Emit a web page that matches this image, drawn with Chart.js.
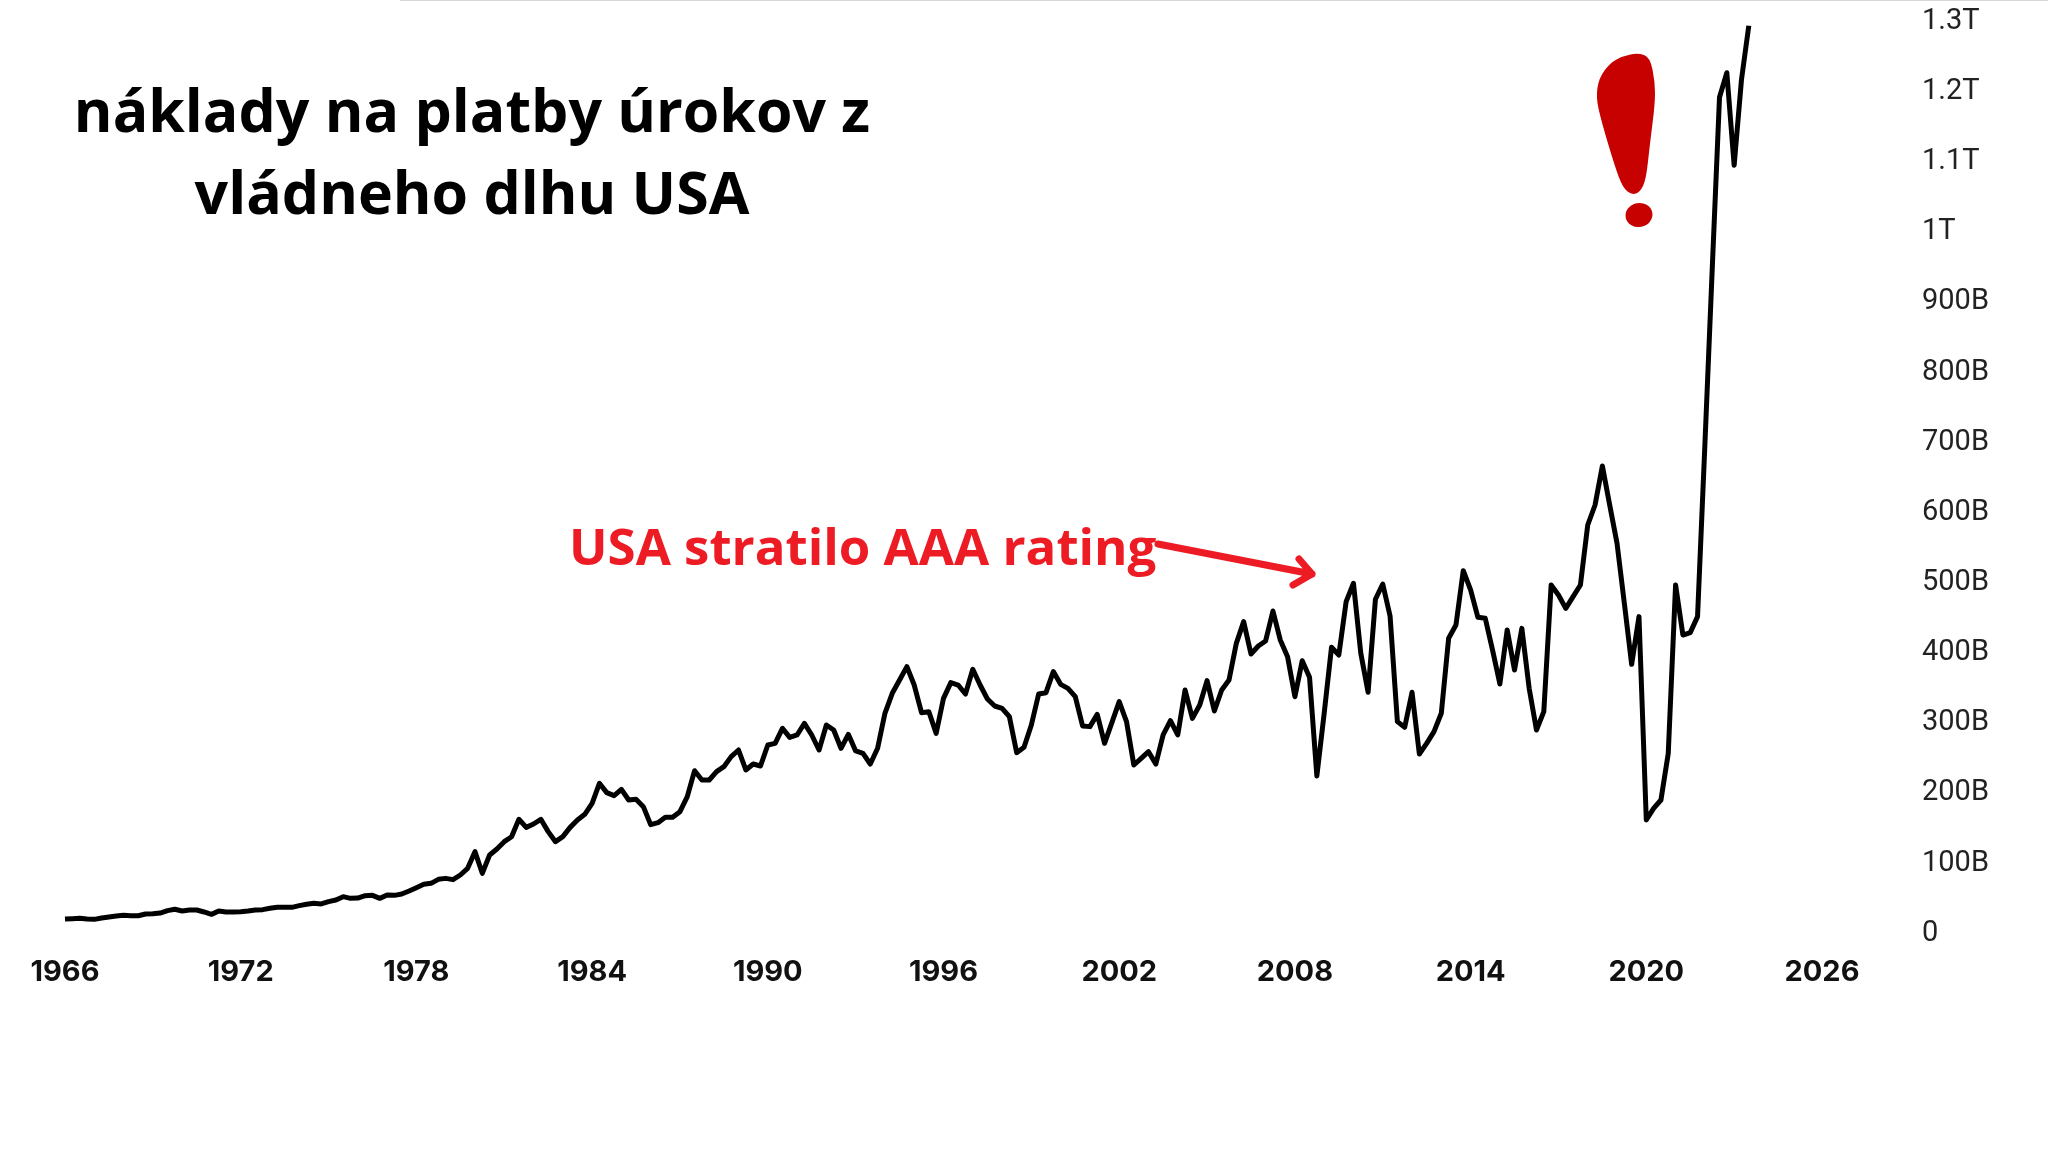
<!DOCTYPE html>
<html>
<head>
    <meta charset="UTF-8">
    <title>Náklady na platby úrokov</title>
    <script src="https://cdn.jsdelivr.net/npm/chart.js"></script>
    <style>
        body {
            margin: 0;
            background-color: #fff;
            overflow: hidden;
        }
        .chart-container {
            width: 2048px;
            height: 1152px;
        }
        .top-rule {
            position: absolute;
            top: 0;
            left: 400px;
            right: 0;
            height: 1px;
            background-color: #d8d8d8;
        }
    </style>
</head>
<body>
<div class="top-rule"></div>
<div class="chart-container">
    <canvas id="interestChart" width="2048" height="1152"></canvas>
</div>
<script>
    // quarterly interest payments, billions of USD, first point is Q1 1966
    const firstYear = 1966;
    const interestCost = [
        15.7, 16.2, 16.6, 15.7, 15.2, 17.1, 18.5, 20, 20.9, 20.4, 20.4, 22.8,
        23.3, 24.2, 27.6, 29.5, 27.1, 28.5, 28.5, 25.7, 22.3, 27.1, 25.7, 25.7,
        26.1, 27.1, 28.5, 29, 30.9, 32.3, 32.3, 32.3, 34.7, 36.6, 38, 37.1,
        40.4, 42.8, 47.5, 45.1, 45.6, 48.9, 49.4, 45.1, 49.9, 49.4, 51.3, 55.6,
        60.3, 65.1, 66.5, 72.2, 73.6, 71.8, 78.4, 87.9, 111.7, 80.8, 106.9, 115.5,
        125.9, 133, 157.8, 146.3, 151.1, 157.8, 140.2, 125.9, 133.1, 146.3, 156.8, 164.9,
        180.6, 209.1, 195.8, 191.5, 200.5, 185.3, 186.3, 175.8, 150.2, 153, 160.6, 160.6,
        168.7, 190.1, 227.1, 213.8, 213.8, 225.7, 232.8, 247.1, 256.6, 228.1, 236.6, 233.8,
        263.7, 266.1, 287.5, 274.6, 278, 294.6, 278, 256.6, 292.2, 285.1, 259, 278.9,
        255.2, 251.8, 236.6, 259, 308.9, 337.4, 356.4, 375.4, 349.2, 309.8, 311.2, 280.3,
        330.2, 352.6, 349.2, 336.4, 371.6, 349.2, 329.3, 319.3, 316, 304.1, 252.8, 260.4,
        292.2, 336.4, 338.3, 368.3, 350.2, 344.5, 332.6, 290.8, 289.9, 307.4, 266.1, 295.6,
        325.5, 297, 235.2, 244.7, 254.2, 236.6, 278, 298.4, 278, 342.1, 301.7, 320.7,
        355.4, 312.2, 342.1, 356.4, 408.6, 439.5, 393.4, 404.8, 412, 454.7, 413.4, 389.6,
        332.6, 383.9, 360.2, 219.5, 308.9, 402.9, 392, 468, 494.2, 394.4, 338.8, 471.4,
        493.2, 447.6, 297, 288.9, 338.8, 250.9, 266.1, 282.7, 308.9, 415.8, 434.8, 512.2,
        484.7, 445.7, 444.3, 399, 350.7, 427.7, 370.6, 430, 344.5, 285.1, 311.2, 491.8,
        477.5, 458.5, 475.2, 491.8, 577.3, 605.8, 661.4, 605.8, 551.2, 465.7, 378.7, 446.7,
        156.8, 173.4, 185.3, 251.8, 491.8, 420.5, 423.9, 446.7, 691, 941, 1187, 1222,
        1090, 1212, 1289
    ];
    const chartTitle = ['náklady na platby úrokov z', 'vládneho dlhu USA'];
    const ratingNote = 'USA stratilo AAA rating';

    // y axis labels: 100B steps, switching to T at a thousand
    function formatAmount(value) {
        if (value === 0) return '0';
        return value >= 1000 ? (value / 1000) + 'T' : value + 'B';
    }

    function smoothOutline(ctx, pts) {
        const n = pts.length;
        ctx.beginPath();
        ctx.moveTo((pts[n - 1][0] + pts[0][0]) / 2, (pts[n - 1][1] + pts[0][1]) / 2);
        for (let i = 0; i < n; i++) {
            const next = pts[(i + 1) % n];
            ctx.quadraticCurveTo(pts[i][0], pts[i][1], (pts[i][0] + next[0]) / 2, (pts[i][1] + next[1]) / 2);
        }
        ctx.closePath();
    }

    // title, red note with its arrow and the exclamation mark on top of the line
    const overlayPlugin = {
        id: 'overlay',
        afterDraw(chart) {
            const ctx = chart.ctx;
            ctx.save();

            ctx.fillStyle = '#000';
            ctx.font = 'bold 59px "Open Sans"';
            ctx.textAlign = 'center';
            ctx.textBaseline = 'alphabetic';
            ctx.fillText(chartTitle[0], 472, 132);
            ctx.fillText(chartTitle[1], 472, 214);

            ctx.fillStyle = '#ed1c24';
            ctx.font = 'bold 51px "Open Sans"';
            ctx.textAlign = 'left';
            ctx.fillText(ratingNote, 569, 565);

            ctx.strokeStyle = '#ed1c24';
            ctx.lineWidth = 7;
            ctx.lineCap = 'round';
            ctx.lineJoin = 'round';
            ctx.beginPath();
            ctx.moveTo(1158, 544);
            ctx.lineTo(1312, 574);
            ctx.moveTo(1299, 559);
            ctx.lineTo(1312, 574);
            ctx.lineTo(1293, 585);
            ctx.stroke();

            ctx.fillStyle = '#c70000';
            smoothOutline(ctx, [
                [1638, 53], [1650, 57], [1655, 82], [1655, 104], [1650, 143], [1646, 180],
                [1640, 192], [1632, 195], [1623, 188], [1615, 167], [1601, 120], [1596, 97],
                [1599, 78], [1610, 63], [1623, 56]
            ]);
            ctx.fill();
            ctx.beginPath();
            ctx.ellipse(1639, 215, 13.5, 12, -0.2, 0, Math.PI * 2);
            ctx.fill();

            ctx.restore();
        }
    };

    new Chart(document.getElementById('interestChart'), {
        type: 'line',
        data: {
            datasets: [{
                data: interestCost.map((v, i) => ({ x: firstYear + i / 4, y: v })),
                borderColor: '#000',
                borderWidth: 5,
                borderJoinStyle: 'round',
                pointRadius: 0,
                tension: 0,
                clip: false
            }]
        },
        options: {
            responsive: false,
            animation: false,
            layout: { padding: { left: 65, top: 18, right: 0, bottom: 0 } },
            plugins: {
                legend: { display: false },
                tooltip: { enabled: false }
            },
            scales: {
                x: {
                    type: 'linear',
                    min: 1966,
                    max: 2026,
                    afterFit: scale => { scale.height = 222; },
                    grid: { display: false, drawTicks: false },
                    border: { display: false },
                    ticks: {
                        stepSize: 6,
                        padding: 25,
                        maxRotation: 0,
                        autoSkip: false,
                        color: '#111',
                        font: { family: 'Inter', size: 29, weight: 'bold' },
                        callback: value => String(value)
                    }
                },
                y: {
                    position: 'right',
                    min: 0,
                    max: 1300,
                    // tick padding only pushes the labels out, no margin above or below the axis
                    afterFit: scale => {
                        scale.width = 226;
                        scale.paddingTop = 0;
                        scale.paddingBottom = 0;
                    },
                    grid: { display: false, drawTicks: false },
                    border: { display: false },
                    ticks: {
                        stepSize: 100,
                        padding: 100,
                        labelOffset: 3.5,
                        autoSkip: false,
                        color: '#222',
                        font: { family: 'Roboto', size: 29 },
                        callback: formatAmount
                    }
                }
            }
        },
        plugins: [overlayPlugin]
    });
</script>
</body>
</html>
